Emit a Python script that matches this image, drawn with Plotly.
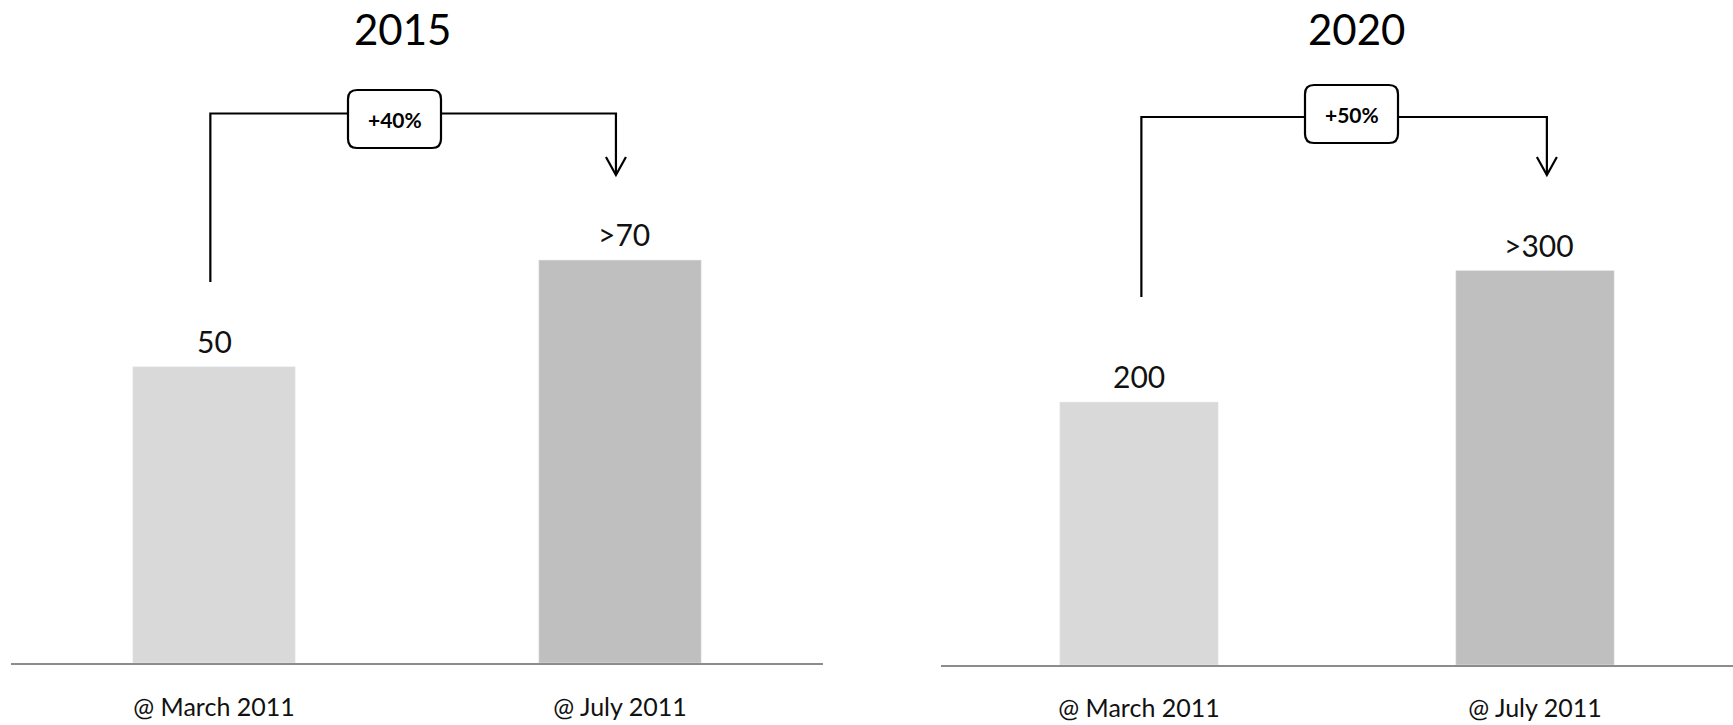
import plotly.graph_objects as go

# ---- data ----
categories = ["@ March 2011", "@ July 2011"]
titles = ["2015", "2020"]
values_2015 = [50, 68]
values_2020 = [200, 300]
labels_2015 = ["50", ">70"]
labels_2020 = ["200", ">300"]
growth_labels = ["+40%", "+50%"]
bar_colors = ["#d9d9d9", "#bfbfbf"]

W, H = 1733, 725
FONT = "Lato, 'Open Sans', sans-serif"

fig = go.Figure()
fig.add_trace(go.Bar(x=categories, y=values_2015, marker_color=bar_colors,
                     width=0.4, xaxis="x", yaxis="y", showlegend=False,
                     hoverinfo="skip"))
fig.add_trace(go.Bar(x=categories, y=values_2020, marker_color=bar_colors,
                     width=0.4, xaxis="x2", yaxis="y2", showlegend=False,
                     hoverinfo="skip"))

# panel geometry (pixels)
panels = [
    dict(x0=11, x1=823, base=663, bar0_top=366.7, vals=values_2015,
         labels=labels_2015, title=titles[0], title_x=402, ax="x", ay="y",
         growth=growth_labels[0], standoff=21,
         br_left=-0.009, br_right=-0.01, br_top=113.5, br_bottom=282, tip=175,
         box_cx=394.5, box_cy=119),
    dict(x0=941, x1=1733, base=665, bar0_top=402, vals=values_2020,
         labels=labels_2020, title=titles[1], title_x=1356, ax="x2", ay="y2",
         growth=growth_labels[1], standoff=20,
         br_left=0.006, br_right=0.03, br_top=117, br_bottom=297, tip=175,
         box_cx=1351.5, box_cy=114),
]

shapes = []
annotations = []
axis_common = dict(showgrid=False, zeroline=False, fixedrange=True,
                   automargin=False)
layout_axes = {}

for i, p in enumerate(panels):
    px_per_unit = (p["base"] - p["bar0_top"]) / p["vals"][0]
    ymax = p["base"] / px_per_unit
    unit_x = (p["x1"] - p["x0"]) / 2.0

    def dx(px):
        return (px - p["x0"]) / unit_x - 0.5

    def dy(py):
        return (p["base"] - py) / px_per_unit

    xa = "xaxis" if i == 0 else "xaxis2"
    ya = "yaxis" if i == 0 else "yaxis2"
    layout_axes[xa] = dict(
        domain=[p["x0"] / W, p["x1"] / W], anchor=p["ay"], range=[-0.5, 1.5],
        showline=True, linecolor="#8c8c8c", linewidth=2, ticks="",
        tickfont=dict(family=FONT, size=25, color="#111"),
        ticklabelstandoff=p["standoff"], **axis_common)
    layout_axes[ya] = dict(
        domain=[1 - p["base"] / H, 1], anchor=p["ax"], range=[0, ymax],
        visible=False, **axis_common)

    xref, yref = p["ax"], p["ay"]

    # title
    annotations.append(dict(text=p["title"], x=p["title_x"] / W, y=1 - 29 / H,
                            xref="paper", yref="paper", showarrow=False,
                            xanchor="center", yanchor="middle",
                            font=dict(family=FONT, size=42, color="#000")))
    # value labels
    for j, (v, lab) in enumerate(zip(p["vals"], p["labels"])):
        annotations.append(dict(text=lab, x=j, y=v, xref=xref, yref=yref,
                                showarrow=False, xanchor="center",
                                yanchor="middle", yshift=26,
                                xshift=4 if lab.startswith(">") else 0,
                                font=dict(family=FONT, size=30, color="#111")))

    # bracket
    xl = p["br_left"]
    xr = 1 + p["br_right"]
    yt = dy(p["br_top"])
    yb = dy(p["br_bottom"])
    ytip = dy(p["tip"])
    shapes.append(dict(type="path", xref=xref, yref=yref,
                       path=f"M {xl},{yb} L {xl},{yt} L {xr},{yt} L {xr},{ytip}",
                       line=dict(color="#000", width=2.2)))
    arm_dx = 10 / unit_x
    arm_dy = 18 / px_per_unit
    shapes.append(dict(type="path", xref=xref, yref=yref,
                       path=(f"M {xr - arm_dx},{ytip + arm_dy} L {xr},{ytip} "
                             f"L {xr + arm_dx},{ytip + arm_dy}"),
                       line=dict(color="#000", width=2.2)))

    # rounded box
    bw, bh, r = 93, 58, 9
    bx0, bx1 = p["box_cx"] - bw / 2, p["box_cx"] + bw / 2
    by0, by1 = p["box_cy"] - bh / 2, p["box_cy"] + bh / 2
    X0, X1 = dx(bx0), dx(bx1)
    Y0, Y1 = dy(by1), dy(by0)  # Y0 bottom, Y1 top
    rx, ry = r / unit_x, r / px_per_unit
    path = (f"M {X0 + rx},{Y1} L {X1 - rx},{Y1} Q {X1},{Y1} {X1},{Y1 - ry} "
            f"L {X1},{Y0 + ry} Q {X1},{Y0} {X1 - rx},{Y0} "
            f"L {X0 + rx},{Y0} Q {X0},{Y0} {X0},{Y0 + ry} "
            f"L {X0},{Y1 - ry} Q {X0},{Y1} {X0 + rx},{Y1} Z")
    shapes.append(dict(type="path", xref=xref, yref=yref, path=path,
                       fillcolor="#ffffff", line=dict(color="#000", width=2.2)))
    annotations.append(dict(text=f"<b>{p['growth']}</b>", x=(X0 + X1) / 2,
                            y=(Y0 + Y1) / 2, xref=xref, yref=yref,
                            showarrow=False, xanchor="center", yanchor="middle",
                            font=dict(family=FONT, size=21, color="#000")))

fig.update_layout(
    width=W, height=H,
    margin=dict(l=0, r=0, t=0, b=0, autoexpand=False),
    paper_bgcolor="#ffffff", plot_bgcolor="#ffffff",
    shapes=shapes, annotations=annotations,
    bargap=0.6, showlegend=False,
    **layout_axes,
)

fig.write_html("out.html", config={"displayModeBar": False})
